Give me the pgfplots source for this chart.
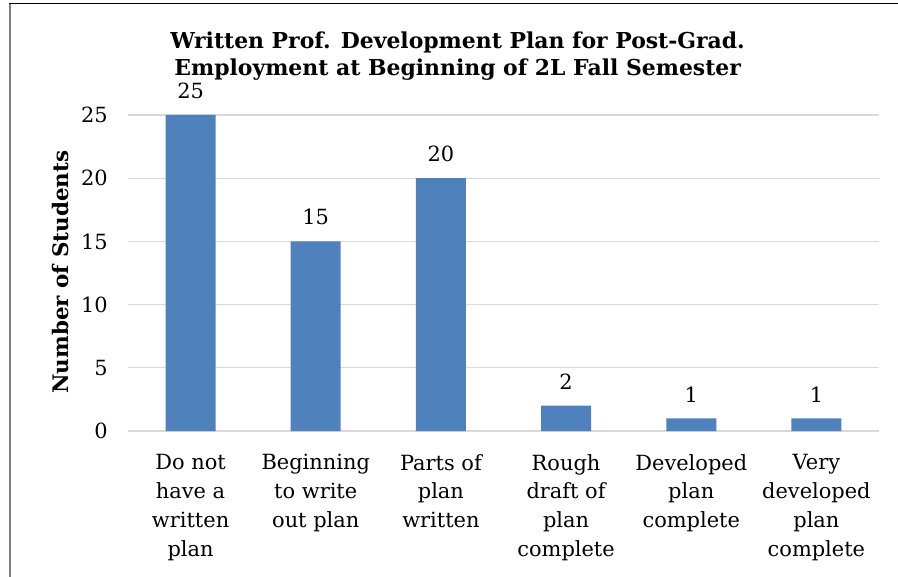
\documentclass[border=0pt]{standalone}
\usepackage{fontspec}
\setmainfont{DejaVu Serif}
\usepackage{pgfplots}
\pgfplotsset{compat=1.18}
\definecolor{barblue}{HTML}{4F81BD}
\definecolor{gridgray}{HTML}{D9D9D9}
\definecolor{framegray}{HTML}{7F7F7F}
\begin{document}
\begin{tikzpicture}
\useasboundingbox (-128bp,-146bp) rectangle (770bp,431bp);
\draw[framegray, line width=2.5bp] (-118bp,427bp) -- (-118bp,-146bp);
\draw[black, line width=1.6bp] (-119bp,427.5bp) -- (770bp,427.5bp);
\begin{axis}[
  at={(0bp,0bp)}, anchor=south west,
  scale only axis, width=751bp, height=316bp,
  ybar, bar width=50bp,
  xmin=-0.5, xmax=5.5, ymin=0, ymax=25,
  xtick={0,1,2,3,4,5},
  xticklabels={{Do not\\have a\\written\\plan},{Beginning\\to write\\out plan},{Parts of\\plan\\written},{Rough\\draft of\\plan\\complete},{Developed\\plan\\complete},{Very\\developed\\plan\\complete}},
  ytick={0,5,10,15,20,25},
  /pgf/number format/assume math mode=true,
  major tick length=0pt,
  axis x line*=bottom, axis y line*=left,
  y axis line style={draw=none},
  x axis line style={gridgray, line width=1.5bp},
  ymajorgrids, grid style={gridgray, line width=1.2bp},
  tick label style={font=\fontsize{21}{29}\selectfont, inner sep=0pt},
  yticklabel style={anchor=east, xshift=-20bp},
  xticklabel style={align=center, anchor=north, yshift=-23bp},
  nodes near coords,
  every node near coord/.append style={font=\fontsize{21}{29}\selectfont, anchor=south, inner sep=0pt, yshift=16bp},
  ylabel={Number of Students},
  ylabel style={at={(axis description cs:-0.0905,0.503)}, anchor=center, font=\fontsize{21.5}{25}\selectfont\bfseries},
  title={Written Prof. Development Plan for Post-Grad.\\Employment at Beginning of 2L Fall Semester},
  title style={at={(axis description cs:0.439,1)}, anchor=south, inner sep=0pt, yshift=28bp, align=center, font=\fontsize{22}{28}\selectfont\bfseries},
]
\addplot[fill=barblue, draw=none] coordinates {(0,25) (1,15) (2,20) (3,2) (4,1) (5,1)};
\end{axis}
\end{tikzpicture}
\end{document}
